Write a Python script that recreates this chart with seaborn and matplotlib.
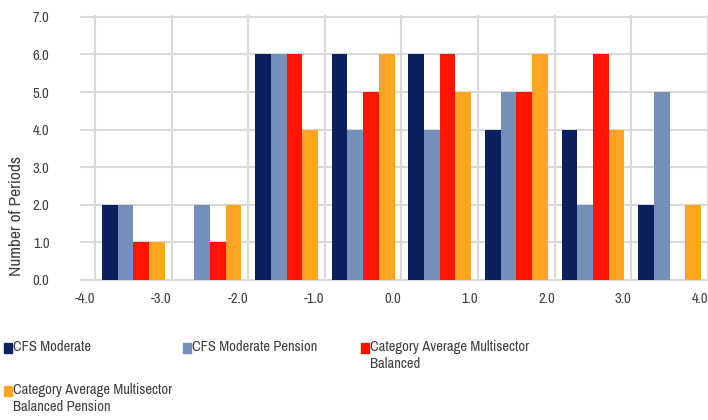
import matplotlib
matplotlib.use("Agg")
import matplotlib.pyplot as plt
import matplotlib.transforms as mtransforms
from matplotlib.patches import Rectangle
from matplotlib import font_manager
import seaborn as sns
import pandas as pd
import numpy as np

# bins between the tick values -4.0 ... 4.0
bins = ["-4to-3", "-3to-2", "-2to-1", "-1to0", "0to1", "1to2", "2to3", "3to4"]
tick_labels = ["-4.0", "-3.0", "-2.0", "-1.0", "0.0", "1.0", "2.0", "3.0", "4.0"]

cfs_moderate = [2, 0, 6, 6, 6, 4, 4, 2]
cfs_moderate_pension = [2, 2, 6, 4, 4, 5, 2, 5]
cat_avg_balanced = [1, 1, 6, 5, 6, 5, 6, 0]
cat_avg_balanced_pension = [1, 2, 4, 6, 5, 6, 4, 2]

series_names = [
    "CFS Moderate",
    "CFS Moderate Pension",
    "Category Average Multisector\nBalanced",
    "Category Average Multisector\nBalanced Pension",
]
colors = ["#0c1f5e", "#7390b8", "#ff1400", "#ffa521"]

df = pd.DataFrame({
    "bin": bins * 4,
    "series": np.repeat(series_names, len(bins)),
    "periods": cfs_moderate + cfs_moderate_pension + cat_avg_balanced + cat_avg_balanced_pension,
})

sns.set_style("white")
# prefer a narrow face if one is installed
installed = {f.name for f in font_manager.fontManager.ttflist}
narrow = [n for n in sorted(installed) if "Narrow" in n or "Condensed" in n]
plt.rcParams["font.family"] = narrow[:1] + ["Liberation Sans", "DejaVu Sans"]
text_color = "#404040"

fig = plt.figure(figsize=(7.08, 4.2), dpi=100)
ax = fig.add_axes([80 / 708, 1 - 281 / 420, 628 / 708, 266 / 420])

sns.barplot(data=df, x="bin", y="periods", hue="series", order=bins,
            hue_order=series_names, palette=colors, width=0.82,
            saturation=1, errorbar=None, legend=False, linewidth=0, ax=ax)

ax.set_xlim(-0.5 - 15 / 77, -0.5 + 613 / 77)
ax.set_ylim(-0.03, 7.05)
ax.set_yticks(range(8))
ax.set_yticklabels([f"{v:.1f}" for v in range(8)])
ax.set_xticks(np.arange(-0.5, len(bins)))
ax.set_xticklabels(tick_labels, ha="right")
offset = mtransforms.ScaledTranslation(-2 / 72, 0, fig.dpi_scale_trans)
for lbl in ax.get_xticklabels():
    lbl.set_transform(lbl.get_transform() + offset)

ax.set_axisbelow(True)
ax.grid(True, axis="both", color="#d9d9d9", linewidth=1.5)
for s in ax.spines.values():
    s.set_visible(False)
ax.tick_params(axis="x", length=4, width=1.5, color="#d9d9d9", pad=4,
               labelsize=10.5, labelcolor=text_color)
ax.tick_params(axis="y", length=0, pad=22, labelsize=10.5, labelcolor=text_color)
ax.set_xlabel("")
ax.set_ylabel("Number of Periods", fontsize=12.5, color=text_color)
ax.yaxis.set_label_coords(-0.089, 0.245)

# legend drawn as squares + wrapped labels, laid out like the original
legend_pos = [(4, 343), (183, 343), (361, 343), (4, 386)]
for (px, py), name, col in zip(legend_pos, series_names, colors):
    fig.add_artist(Rectangle((px / 708, 1 - (py + 10) / 420), 8 / 708, 10 / 420,
                             transform=fig.transFigure, color=col))
    fig.text((px + 9) / 708, 1 - (py - 3) / 420, name, ha="left", va="top",
             fontsize=10.5, color=text_color, linespacing=1.25)

fig.savefig("out.png", dpi=100)
